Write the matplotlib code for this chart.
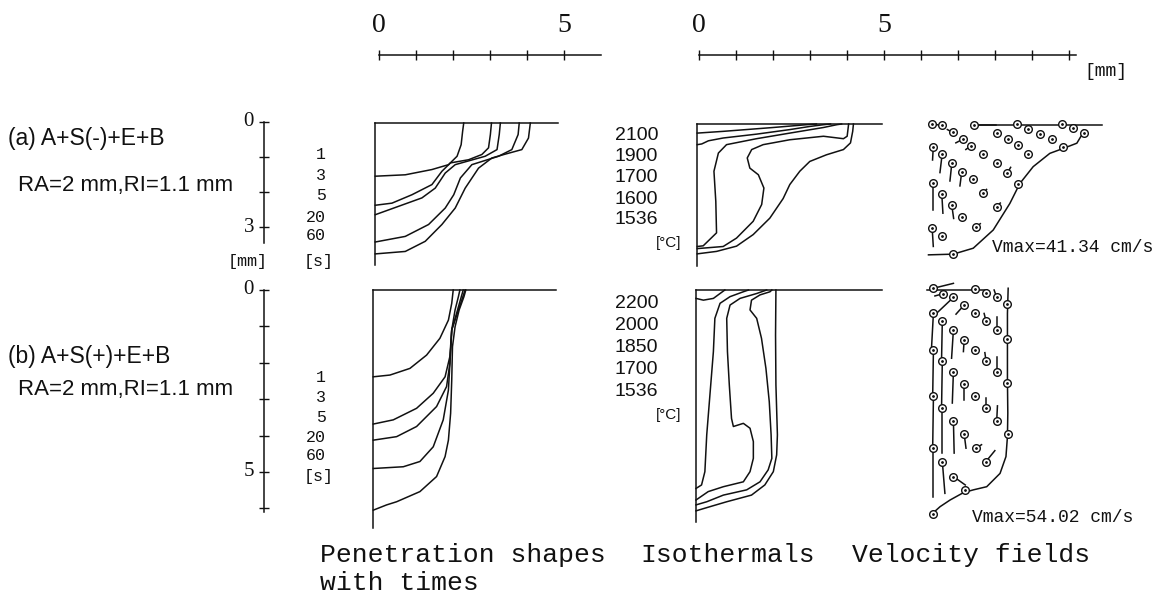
import numpy as np
import matplotlib.pyplot as plt

# ---- data (mm, depth positive downwards) ----
times = ["1", "3", "5", "20", "60"]
temps_a = ["2100", "1900", "1700", "1600", "1536"]
temps_b = ["2200", "2000", "1850", "1700", "1536"]
vmax_a = "Vmax=41.34 cm/s"
vmax_b = "Vmax=54.02 cm/s"

# penetration shapes (a), one curve per time
pen_a_x = [[0, 0.81, 1.53, 1.98, 2.21, 2.32, 2.36, 2.39],
           [0, 0.45, 0.99, 1.53, 1.80, 2.03, 2.52, 2.88, 3.06, 3.11, 3.14],
           [0, 0.63, 1.26, 1.62, 1.89, 2.16, 2.97, 3.29, 3.35, 3.38],
           [0, 0.81, 1.44, 1.89, 2.12, 2.30, 2.61, 3.33, 3.69, 3.86, 3.89],
           [0, 0.81, 1.35, 1.80, 2.16, 2.43, 2.79, 3.15, 3.51, 3.96, 4.14, 4.19]]
pen_a_y = [[1.52, 1.48, 1.33, 1.19, 0.95, 0.62, 0.24, 0],
           [2.35, 2.29, 2.05, 1.76, 1.38, 1.14, 1.05, 0.90, 0.71, 0.33, 0],
           [2.62, 2.38, 2.14, 1.86, 1.43, 1.19, 0.95, 0.76, 0.33, 0],
           [3.40, 3.24, 2.90, 2.43, 2.05, 1.57, 1.19, 0.95, 0.76, 0.33, 0],
           [3.74, 3.67, 3.38, 2.90, 2.43, 1.86, 1.29, 1.00, 0.89, 0.76, 0.43, 0]]

# penetration shapes (b)
pen_b_x = [[0, 0.45, 0.99, 1.44, 1.80, 2.03, 2.12, 2.16],
           [0, 0.54, 1.17, 1.62, 1.94, 2.07, 2.12, 2.21, 2.30, 2.34],
           [0, 0.63, 1.17, 1.71, 1.98, 2.07, 2.12, 2.27, 2.39, 2.48],
           [0, 0.81, 1.26, 1.62, 1.89, 2.03, 2.07, 2.12, 2.25, 2.43],
           [0, 0.36, 0.63, 1.26, 1.71, 1.94, 2.03, 2.09, 2.12, 2.14, 2.21, 2.32, 2.45, 2.50]]
pen_b_y = [[2.48, 2.43, 2.24, 1.86, 1.38, 0.86, 0.38, 0],
           [3.83, 3.71, 3.38, 2.95, 2.48, 1.90, 1.14, 0.57, 0.19, 0],
           [4.29, 4.19, 3.90, 3.33, 2.76, 2.10, 1.14, 0.67, 0.29, 0],
           [5.10, 5.05, 4.90, 4.48, 3.71, 2.86, 2.10, 1.14, 0.67, 0],
           [6.29, 6.14, 6.05, 5.76, 5.33, 4.76, 4.29, 3.52, 2.57, 1.62, 1.05, 0.57, 0.19, 0]]

# isothermals (a)
iso_a_x = [[0, 0.70, 2.05, 2.95, 3.22],
           [0, 0.12, 0.30, 0.70, 1.60, 2.50, 3.04, 3.41, 3.60],
           [0, 0.16, 0.52, 0.50, 0.45, 0.57, 0.79, 1.60, 2.50, 3.41, 3.77, 3.90],
           [0, 0.70, 1.06, 1.51, 1.74, 1.80, 1.65, 1.42, 1.35, 1.47, 1.78, 2.50, 3.41, 3.95, 4.05, 4.09],
           [0, 0.52, 1.06, 1.51, 1.96, 2.32, 2.50, 2.77, 3.04, 3.49, 3.95, 4.14, 4.20, 4.22]]
iso_a_y = [[0.26, 0.21, 0.10, 0.02, 0],
           [0.59, 0.57, 0.48, 0.40, 0.29, 0.16, 0.07, 0.02, 0],
           [3.50, 3.48, 3.11, 2.21, 1.35, 0.83, 0.59, 0.42, 0.26, 0.10, 0.02, 0],
           [3.56, 3.50, 3.26, 2.78, 2.30, 1.83, 1.45, 1.26, 0.97, 0.73, 0.59, 0.45, 0.35, 0.42, 0.35, 0],
           [3.71, 3.64, 3.49, 3.16, 2.69, 2.13, 1.73, 1.35, 1.07, 0.88, 0.73, 0.54, 0.21, 0]]

# isothermals (b)
iso_b_x = [[0, 0.20, 0.47, 0.65, 0.78],
           [0, 0.15, 0.24, 0.29, 0.38, 0.47, 0.51, 0.65, 0.92, 1.28, 1.42],
           [0, 0.33, 0.74, 1.28, 1.46, 1.55, 1.55, 1.46, 1.28, 1.01, 0.96, 0.90, 0.85, 0.83, 0.92, 1.19, 1.64, 1.91],
           [0, 0.29, 0.74, 1.37, 1.73, 1.95, 2.05, 2.03, 1.98, 1.89, 1.77, 1.64, 1.46, 1.50, 1.73, 2.00, 2.05],
           [0, 0.38, 0.83, 1.50, 1.86, 2.09, 2.18, 2.20, 2.16, 2.15, 2.16]]
iso_b_y = [[0.24, 0.29, 0.24, 0.10, 0],
           [5.67, 5.57, 5.19, 4.14, 2.95, 1.76, 0.81, 0.38, 0.19, 0.05, 0],
           [6.00, 5.76, 5.62, 5.48, 5.19, 4.81, 4.33, 3.95, 3.81, 3.90, 3.67, 2.71, 1.76, 0.81, 0.43, 0.24, 0.10, 0],
           [6.14, 6.05, 5.86, 5.71, 5.48, 5.14, 4.81, 4.14, 3.19, 2.24, 1.38, 0.81, 0.57, 0.29, 0.14, 0.05, 0],
           [6.31, 6.19, 6.05, 5.86, 5.57, 5.19, 4.71, 4.14, 2.71, 1.29, 0]]

# velocity fields: pool boundary, surface line, node positions and vector tails
vel_a_bx = [0.04, 0.71, 1.25, 1.79, 2.24, 2.51, 2.87, 3.32, 3.68, 4.05, 4.18, 4.23]
vel_a_by = [3.71, 3.69, 3.52, 3.00, 2.24, 1.67, 1.19, 0.81, 0.67, 0.52, 0.29, 0.14]
vel_a_top = [1.21, 4.72]
vel_a_x = [0.14, 0.40, 0.69, 0.96, 1.27, 1.88, 2.20, 2.42, 2.74, 3.05, 3.37, 3.64, 3.94, 4.23,
           1.18, 1.52, 1.88, 2.17, 2.47, 2.74, 0.17, 0.41, 0.67, 0.94, 1.23, 1.52,
           0.17, 0.40, 0.67, 0.94, 1.88, 1.32, 0.14, 0.40, 0.71, 2.47, 3.68]
vel_a_y = [-0.03, 0.00, 0.21, 0.41, 0.00, 0.22, 0.41, -0.03, 0.12, 0.26, 0.41, -0.03, 0.10, 0.22,
           0.60, 0.83, 1.08, 1.38, 0.57, 0.83, 0.62, 0.83, 1.10, 1.33, 1.55, 1.95,
           1.65, 1.97, 2.29, 2.62, 2.33, 2.92, 2.95, 3.17, 3.69, 1.69, 0.64]
vel_a_dx = [0.18, 0.08, -0.14, -0.18, 0.60, 0.06, 0.05, 0.0, 0.05, 0.05, 0.05, 0.0, 0.05, 0.0,
            -0.13, 0.05, 0.05, 0.09, 0.05, 0.0, -0.02, -0.06, -0.05, -0.05, 0.05, 0.09,
            0.0, 0.03, 0.05, 0.10, 0.10, 0.12, 0.03, 0.08, 0.0, 0.0, 0.0]
vel_a_dy = [0.03, 0.0, -0.08, 0.10, 0.0, 0.04, 0.04, 0.0, 0.04, 0.04, 0.04, 0.0, 0.04, 0.0,
            0.10, 0.04, 0.05, -0.17, 0.04, 0.0, 0.38, 0.53, 0.50, 0.41, 0.04, -0.11,
            0.78, 0.55, 0.38, 0.05, -0.10, -0.10, 0.52, 0.02, 0.0, 0.0, 0.0]

vel_b_bx = [2.14, 2.12, 2.12, 2.12, 2.13, 2.12, 2.08, 1.92, 1.56, 1.20, 0.93, 0.57, 0.30, 0.12]
vel_b_by = [-0.05, 0.67, 1.62, 2.57, 3.52, 4.19, 4.76, 5.24, 5.62, 5.71, 5.79, 6.00, 6.19, 6.36]
vel_b_top = [-0.06, 1.56]
vel_b_x = [0.12, 0.37, 1.24, 1.54, 1.83, 0.66, 0.95, 1.23, 1.54, 1.83, 2.12,
           0.12, 0.36, 0.66, 0.95, 1.24, 1.54, 1.83, 2.12,
           0.12, 0.36, 0.66, 0.95, 1.24, 1.54, 1.83, 2.12,
           0.12, 0.36, 0.66, 0.95, 1.27, 1.54, 2.14,
           0.12, 0.36, 0.66, 0.97, 0.12]
vel_b_y = [-0.05, 0.11, -0.02, 0.08, 0.21, 0.21, 0.43, 0.65, 0.88, 1.14, 0.40,
           0.65, 0.88, 1.14, 1.43, 1.71, 2.02, 2.33, 1.41,
           1.71, 2.02, 2.33, 2.69, 3.03, 3.38, 3.74, 2.67,
           3.03, 3.38, 3.74, 4.11, 4.52, 4.90, 4.11,
           4.52, 4.90, 5.33, 5.71, 6.40]
vel_b_dx = [0.54, -0.21, 0.0, 0.0, -0.07, -0.50, -0.22, 0.0, -0.05, 0.0, 0.0,
            -0.05, -0.02, -0.05, -0.02, 0.0, -0.03, 0.0, 0.0,
            -0.02, -0.02, -0.03, 0.0, 0.0, 0.0, 0.02, 0.0,
            -0.02, 0.0, 0.02, 0.05, 0.15, 0.24, 0.0,
            0.0, 0.07, 0.32, 0.0, 0.0]
vel_b_dy = [-0.14, 0.06, 0.0, 0.0, -0.21, 0.50, 0.26, 0.0, -0.21, -0.38, 0.0,
            0.97, 1.08, 0.81, 0.33, 0.0, -0.23, -0.43, 0.0,
            1.29, 1.31, 0.90, 0.44, 0.0, -0.29, -0.43, 0.0,
            1.45, 1.29, 0.92, 0.41, -0.10, -0.31, 0.0,
            1.38, 0.91, 0.24, 0.0, 0.0]

W, H = 1175, 598
fig = plt.figure(figsize=(W / 100, H / 100), dpi=100)
LW = 1.1
INK = "#111111"


def panel(x0, y0, xlim, ylim, sx=37.0, sy=35.0):
    # axes whose data origin (0 mm, 0 mm) sits at pixel (x0, y0)
    left, right = x0 + xlim[0] * sx, x0 + xlim[1] * sx
    top, bottom = y0 + ylim[0] * sy, y0 + ylim[1] * sy
    ax = fig.add_axes([left / W, 1 - bottom / H, (right - left) / W, (bottom - top) / H])
    ax.set_xlim(*xlim)
    ax.set_ylim(ylim[1], ylim[0])
    ax.axis("off")
    return ax


def ftext(x, y, s, **kw):
    kw.setdefault("color", INK)
    fig.text(x / W, 1 - y / H, s, **kw)


def shapes(ax, xs, ys, wall, top):
    ax.plot([0, 0], [0, wall], color=INK, lw=LW)
    ax.plot([0, top], [0, 0], color=INK, lw=LW)
    for x, y in zip(xs, ys):
        ax.plot(x, y, color=INK, lw=LW)


def velocity(ax, bx, by, top, x, y, dx, dy):
    ax.plot(bx, by, color=INK, lw=LW)
    ax.plot(top, [0, 0], color=INK, lw=LW)
    for xi, yi, dxi, dyi in zip(x, y, dx, dy):
        ax.plot([xi, xi + dxi], [yi, yi + dyi], color=INK, lw=LW)
    ax.plot(x, y, "o", ms=5.5, mfc="white", mec=INK, mew=1.0)
    ax.plot(x, y, ".", ms=2, color=INK)


# main panels
shapes(panel(375.3, 123, (-0.2, 5.2), (-0.2, 4.3)), pen_a_x, pen_a_y, 4.05, 4.95)
shapes(panel(697.3, 124, (-0.2, 5.2), (-0.2, 4.3)), iso_a_x, iso_a_y, 4.07, 4.98)
shapes(panel(373.3, 290, (-0.2, 5.2), (-0.2, 7.0)), pen_b_x, pen_b_y, 6.81, 4.95)
shapes(panel(696.0, 290, (-0.2, 5.2), (-0.2, 7.0)), iso_b_x, iso_b_y, 6.62, 5.02)
velocity(panel(927, 125, (-0.3, 5.0), (-0.3, 4.2)),
         vel_a_bx, vel_a_by, vel_a_top, vel_a_x, vel_a_y, vel_a_dx, vel_a_dy)
velocity(panel(929, 290, (-0.3, 3.0), (-0.3, 6.8)),
         vel_b_bx, vel_b_by, vel_b_top, vel_b_x, vel_b_y, vel_b_dx, vel_b_dy)

# horizontal mm scales at the top
serif = "Liberation Serif"
mono = "Liberation Mono"
for x0, n_ticks, length in [(379, 6, 6.0), (699, 11, 10.2)]:
    ax = panel(x0, 55, (-0.3, length + 0.3), (-0.3, 0.3), sx=37.0)
    ax.plot([0, length], [0, 0], color=INK, lw=LW)
    ticks = np.arange(n_ticks)
    ax.plot(ticks, np.zeros(n_ticks), "|", ms=7, mew=1.0, color=INK)
    ftext(x0, 25, "0", fontsize=20, family=serif, ha="center", va="center")
    ftext(x0 + 5 * 37.0, 25, "5", fontsize=20, family=serif, ha="center", va="center")
ftext(1084, 72, "[mm]", fontsize=13, family=mono, ha="left", va="center")

# vertical depth scales on the left
for y0, sy, length, n_ticks, labels in [(122, 35.0, 3.45, 4, [(0, "0"), (3, "3")]),
                                         (290, 36.4, 6.1, 7, [(0, "0"), (5, "5")])]:
    ax = panel(264, y0, (-0.3, 0.3), (-0.2, length + 0.2), sx=37.0, sy=sy)
    ax.plot([0, 0], [0, length], color=INK, lw=LW)
    ticks = np.arange(n_ticks)
    ax.plot(np.zeros(n_ticks), ticks, "_", ms=7, mew=1.0, color=INK)
    for v, s in labels:
        ftext(254, y0 + v * sy, s, fontsize=15, family=serif, ha="right", va="center")
ftext(248, 262, "[mm]", fontsize=12, family=mono, ha="center", va="center")

# time labels
sans = "Liberation Sans"
for ys, unit_y in [([155, 175, 195, 217, 235], 262), ([378, 397, 417, 437, 455], 477)]:
    for y, t in zip(ys, times):
        ftext(326, y, t, fontsize=12, family=mono, ha="right", va="center")
    ftext(319, unit_y, "[s]", fontsize=12, family=mono, ha="center", va="center")

# isotherm labels
for ys, temps, unit_y in [([135, 157, 178, 199, 219], temps_a, 243),
                          ([303, 325, 348, 370, 392], temps_b, 415)]:
    for y, t in zip(ys, temps):
        ftext(658, y, t, fontsize=14, family=sans, ha="right", va="center")
    ftext(681, unit_y, "[°C]", fontsize=11, family=sans, ha="right", va="center")

# case labels
ftext(8, 139, "(a) A+S(-)+E+B", fontsize=16.5, family=sans, ha="left", va="center")
ftext(18, 185, "RA=2 mm,RI=1.1 mm", fontsize=16, family=sans, ha="left", va="center")
ftext(8, 357, "(b) A+S(+)+E+B", fontsize=16.5, family=sans, ha="left", va="center")
ftext(18, 389, "RA=2 mm,RI=1.1 mm", fontsize=16, family=sans, ha="left", va="center")

# vmax labels
ftext(992, 247, vmax_a, fontsize=13, family=mono, ha="left", va="center")
ftext(972, 517, vmax_b, fontsize=13, family=mono, ha="left", va="center")

# captions
ftext(320, 555, "Penetration shapes", fontsize=19, family=mono, ha="left", va="center")
ftext(320, 583, "with times", fontsize=19, family=mono, ha="left", va="center")
ftext(640, 555, "Isothermals", fontsize=19, family=mono, ha="left", va="center")
ftext(852, 555, "Velocity fields", fontsize=19, family=mono, ha="left", va="center")

fig.savefig("out.png", dpi=100, facecolor="white")
